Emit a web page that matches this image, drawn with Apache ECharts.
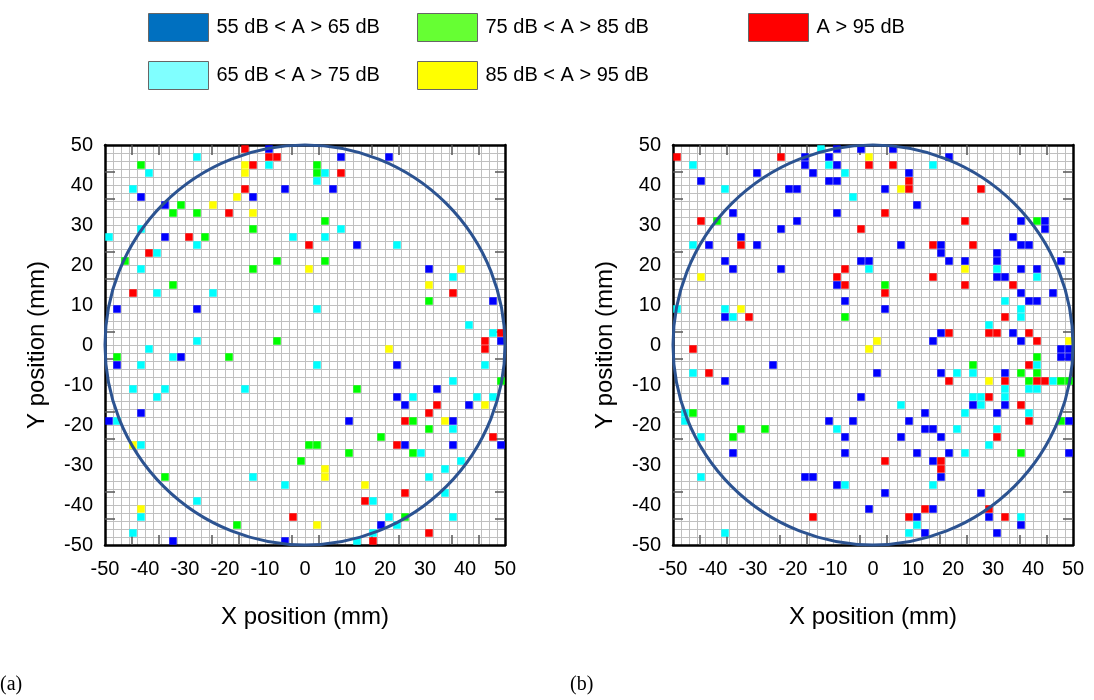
<!DOCTYPE html>
<html>
<head>
<meta charset="utf-8">
<script src="https://cdn.jsdelivr.net/npm/echarts@6/dist/echarts.min.js"></script>
<style>
  html, body { margin: 0; padding: 0; background: #fff; }
  #chart { width: 1094px; height: 700px; }
</style>
</head>
<body>
<div id="chart"></div>
<script>
// Sound level classes
const levelNames = ['55 dB < A > 65 dB', '65 dB < A > 75 dB', '75 dB < A > 85 dB', '85 dB < A > 95 dB', 'A > 95 dB'];
const cellColors = ['#0000ff', '#00ffff', '#00ff00', '#ffff00', '#ff0000'];
const legendColors = ['#0070c0', '#80ffff', '#66ff33', '#ffff00', '#ff0000'];

// Panel labels and axis titles
const panelLabels = ['(a)', '(b)'];
const xTitle = 'X position (mm)';
const yTitle = 'Y position (mm)';

// Measuring area: disc of radius 50 mm centred at the origin
const discCenter = [0, 0];
const discRadius = 50;

// Inner tick divisions on the frame (15 divisions, every third not marked)
const frameTickSlots = ['0','1','2','3','4','5','6','7','8','9','10','11','12','13','14','15'];

// Cell centres [x mm, y mm] per sound level, panel (a)
const aBlue = [[-9,49],[-5,39],[-13,37],[-35,35],[-35,27],[-47,9],[-27,9],[9,47],[21,47],[7,39],[13,25],[31,19],[47,11],[49,1],[-41,37],[-47,-5],[-31,-3],[-41,-17],[-49,-19],[-33,-49],[-5,-49],[23,-5],[33,-11],[23,-13],[25,-15],[41,-15],[11,-19],[37,-19],[25,-25],[37,-25],[49,-25],[19,-45]];
const aCyan = [[-9,45],[-27,47],[-39,43],[-43,39],[-41,29],[-49,27],[-3,27],[-27,25],[-37,23],[-41,19],[-37,13],[-23,13],[-27,1],[-39,-1],[5,43],[3,41],[9,29],[5,27],[23,25],[37,17],[3,9],[41,5],[47,3],[-41,-5],[-33,-3],[-43,-11],[-35,-11],[-37,-13],[-15,-11],[-47,-19],[-41,-25],[-13,-33],[-5,-35],[-27,-39],[-41,-43],[-43,-47],[3,-5],[45,-5],[37,-9],[27,-13],[43,-13],[47,-13],[37,-21],[29,-27],[39,-29],[35,-31],[31,-33],[35,-37],[17,-39],[21,-43],[37,-43],[23,-45],[17,-47],[13,-49]];
const aGreen = [[-41,45],[-31,35],[-33,33],[-27,33],[-13,29],[-25,27],[-45,21],[-7,21],[-13,19],[-33,15],[-7,1],[3,45],[3,43],[5,31],[5,21],[31,11],[-47,-3],[-19,-3],[1,-25],[-1,-29],[-35,-33],[-17,-45],[49,-9],[13,-11],[27,-19],[31,-21],[19,-23],[3,-25],[11,-27],[27,-27],[25,-43]];
const aYellow = [[-15,45],[-15,43],[-17,37],[-23,35],[-13,33],[1,19],[39,19],[31,15],[21,-1],[-43,-25],[-41,-41],[45,-15],[35,-19],[5,-31],[5,-33],[15,-35],[3,-45]];
const aRed = [[-15,49],[-9,47],[-7,47],[-13,45],[-15,39],[-19,33],[-29,27],[1,25],[-39,23],[-43,13],[9,43],[37,13],[49,3],[45,1],[45,-1],[-3,-43],[33,-15],[31,-17],[25,-19],[47,-23],[23,-25],[25,-37],[15,-39],[31,-47],[17,-49]];

// Cell centres [x mm, y mm] per sound level, panel (b)
const bBlue = [[-17,47],[-11,47],[-9,49],[-3,49],[-17,45],[-9,45],[-29,43],[-15,43],[-43,41],[-11,41],[-9,41],[-21,39],[-19,39],[-35,33],[-9,33],[-19,31],[-23,29],[-33,27],[-41,25],[-29,25],[-37,21],[-3,21],[-1,21],[-35,19],[-23,19],[-9,15],[-7,11],[-37,7],[5,49],[19,47],[9,43],[3,39],[11,35],[37,31],[43,31],[43,29],[35,27],[7,25],[17,25],[37,25],[39,25],[17,23],[31,23],[19,21],[23,21],[31,21],[47,21],[37,19],[41,19],[31,17],[33,17],[37,13],[45,13],[39,11],[41,11],[3,9],[17,3],[35,3],[15,1],[37,1],[-25,-5],[1,-7],[-37,-9],[-3,-13],[-11,-19],[-5,-19],[-7,-23],[-35,-27],[-7,-27],[-17,-33],[-15,-33],[-9,-35],[-1,-41],[47,-1],[49,-1],[47,-3],[49,-3],[17,-7],[33,-7],[25,-15],[33,-15],[13,-17],[31,-17],[9,-19],[49,-19],[13,-21],[15,-21],[7,-23],[17,-23],[11,-27],[19,-27],[49,-27],[15,-29],[17,-33],[3,-37],[27,-37],[15,-41],[11,-43],[29,-43],[37,-45],[13,-47],[31,-47]];
const bCyan = [[-45,45],[-13,49],[-11,45],[-7,43],[-37,39],[-5,37],[-45,25],[-1,19],[-37,9],[-35,7],[-49,9],[15,45],[31,19],[41,17],[33,11],[37,9],[37,7],[29,5],[-45,-7],[-47,-17],[-47,-19],[-9,-21],[-43,-23],[-43,-33],[-7,-35],[-37,-47],[41,-5],[21,-7],[25,-7],[45,-9],[39,-11],[41,-11],[33,-11],[25,-13],[27,-13],[33,-13],[7,-15],[27,-15],[23,-17],[39,-17],[21,-21],[31,-21],[29,-25],[23,-27],[15,-35],[37,-43],[11,-45],[9,-47]];
const bGreen = [[-39,31],[-7,7],[41,31],[3,15],[-45,-17],[-33,-21],[-27,-21],[-35,-23],[41,-3],[25,-5],[37,-7],[41,-7],[39,-9],[47,-9],[49,-9],[47,-19],[37,-27]];
const bYellow = [[-1,47],[-43,17],[-33,9],[1,1],[7,39],[23,19],[49,1],[-1,-1],[29,-9]];
const bRed = [[-49,47],[-23,47],[-1,45],[-43,31],[-3,29],[-33,25],[-7,19],[-9,17],[-7,15],[-31,7],[-45,-1],[5,45],[9,41],[9,39],[27,39],[3,33],[23,31],[15,25],[25,25],[15,17],[23,15],[35,15],[3,13],[33,7],[19,3],[29,3],[31,3],[39,3],[41,1],[-41,-7],[-15,-43],[39,-5],[19,-9],[33,-9],[41,-9],[43,-9],[29,-13],[37,-15],[39,-19],[31,-23],[3,-29],[17,-29],[17,-31],[13,-41],[29,-41],[9,-43],[33,-43]];

const panelData = [
  [aBlue, aCyan, aGreen, aYellow, aRed],
  [bBlue, bCyan, bGreen, bYellow, bRed]
];

const gridBoxes = [
  { left: 105, top: 145, width: 400, height: 400 },
  { left: 673, top: 145, width: 400, height: 400 }
];

const FONT = 'Liberation Sans, Arial, sans-serif';
const gridGray = '#c0c0c0';
const frameTickShown = (i) => i % 3 !== 0;

const grids = [], xAxes = [], yAxes = [], series = [];

gridBoxes.forEach((box, p) => {
  grids.push(Object.assign({ containLabel: false }, box));
  const base = xAxes.length;
  // main value axes with labels and the 2 mm cell grid
  xAxes.push({
    gridIndex: p, type: 'value', min: -50, max: 50, interval: 10, position: 'bottom',
    axisLine: { show: true, onZero: false, lineStyle: { color: '#000', width: 2.5 } },
    axisTick: { show: false },
    axisLabel: { fontSize: 20, color: '#000', margin: 14, fontFamily: FONT },
    splitLine: { show: true, lineStyle: { color: gridGray, width: 1 } },
    minorTick: { show: false, splitNumber: 5 },
    minorSplitLine: { show: true, lineStyle: { color: gridGray, width: 1 } },
    name: xTitle, nameLocation: 'middle', nameGap: 60,
    nameTextStyle: { fontSize: 24, color: '#000', fontFamily: FONT }
  });
  yAxes.push({
    gridIndex: p, type: 'value', min: -50, max: 50, interval: 10, position: 'left',
    axisLine: { show: true, onZero: false, lineStyle: { color: '#000', width: 2.5 } },
    axisTick: { show: false },
    axisLabel: { fontSize: 20, color: '#000', margin: 12, fontFamily: FONT },
    splitLine: { show: true, lineStyle: { color: gridGray, width: 1 } },
    minorTick: { show: false, splitNumber: 5 },
    minorSplitLine: { show: true, lineStyle: { color: gridGray, width: 1 } },
    name: yTitle, nameLocation: 'middle', nameGap: 56,
    nameTextStyle: { fontSize: 24, color: '#000', fontFamily: FONT }
  });
  // frame axes carrying the short inner ticks
  ['top', 'bottom'].forEach((pos) => {
    xAxes.push({
      gridIndex: p, type: 'category', position: pos, boundaryGap: false, data: frameTickSlots,
      axisLine: { show: pos === 'top', onZero: false, lineStyle: { color: '#000', width: 2.5 } },
      axisTick: { show: true, inside: true, length: 10, interval: frameTickShown, lineStyle: { color: '#555', width: 1.5 } },
      axisLabel: { show: false }, splitLine: { show: false }
    });
  });
  ['right', 'left'].forEach((pos) => {
    yAxes.push({
      gridIndex: p, type: 'category', position: pos, boundaryGap: false, data: frameTickSlots,
      axisLine: { show: pos === 'right', onZero: false, lineStyle: { color: '#000', width: 2.5 } },
      axisTick: { show: true, inside: true, length: 10, interval: frameTickShown, lineStyle: { color: '#555', width: 1.5 } },
      axisLabel: { show: false }, splitLine: { show: false }
    });
  });

  panelData[p].forEach((cells, k) => {
    series.push({
      type: 'scatter', name: levelNames[k], xAxisIndex: base, yAxisIndex: base,
      symbol: 'rect', symbolSize: 7, data: cells,
      itemStyle: { color: cellColors[k], borderColor: cellColors[k], borderWidth: 0.5, opacity: 1 },
      emphasis: { disabled: true }, z: 3
    });
  });

  series.push({
    type: 'custom', xAxisIndex: base, yAxisIndex: base, clip: false, silent: true, z: 4,
    data: [[discCenter[0], discCenter[1], discRadius]],
    renderItem: (params, api) => {
      const c = api.coord([api.value(0), api.value(1)]);
      const r = api.size([api.value(2), 0])[0];
      return {
        type: 'circle', shape: { cx: c[0], cy: c[1], r: r },
        style: { fill: null, stroke: '#2c5391', lineWidth: 3 }
      };
    }
  });
});

const legendBase = {
  orient: 'vertical', top: 13, padding: 0, itemWidth: 60, itemHeight: 28, itemGap: 19,
  icon: 'rect', selectedMode: false,
  itemStyle: { borderColor: '#666', borderWidth: 1, opacity: 1 },
  textStyle: { fontSize: 20, color: '#000', fontFamily: FONT, padding: [0, 0, 0, 3] }
};
const legendItem = (k) => ({ name: levelNames[k], itemStyle: { color: legendColors[k], opacity: 1 } });

const option = {
  animation: false,
  backgroundColor: '#fff',
  textStyle: { fontFamily: FONT },
  legend: [
    Object.assign({}, legendBase, { left: 148, data: [legendItem(0), legendItem(1)] }),
    Object.assign({}, legendBase, { left: 417, data: [legendItem(2), legendItem(3)] }),
    Object.assign({}, legendBase, { left: 748, data: [legendItem(4)] })
  ],
  title: [
    { text: panelLabels[0], left: 0, top: 675, padding: 0,
      textStyle: { fontFamily: 'Liberation Serif, Times New Roman, serif', fontSize: 20, fontWeight: 'normal', color: '#000' } },
    { text: panelLabels[1], left: 570, top: 675, padding: 0,
      textStyle: { fontFamily: 'Liberation Serif, Times New Roman, serif', fontSize: 20, fontWeight: 'normal', color: '#000' } }
  ],
  grid: grids,
  xAxis: xAxes,
  yAxis: yAxes,
  series: series
};

const chart = echarts.init(document.getElementById('chart'), null, { renderer: 'canvas' });
chart.setOption(option);
</script>
</body>
</html>
